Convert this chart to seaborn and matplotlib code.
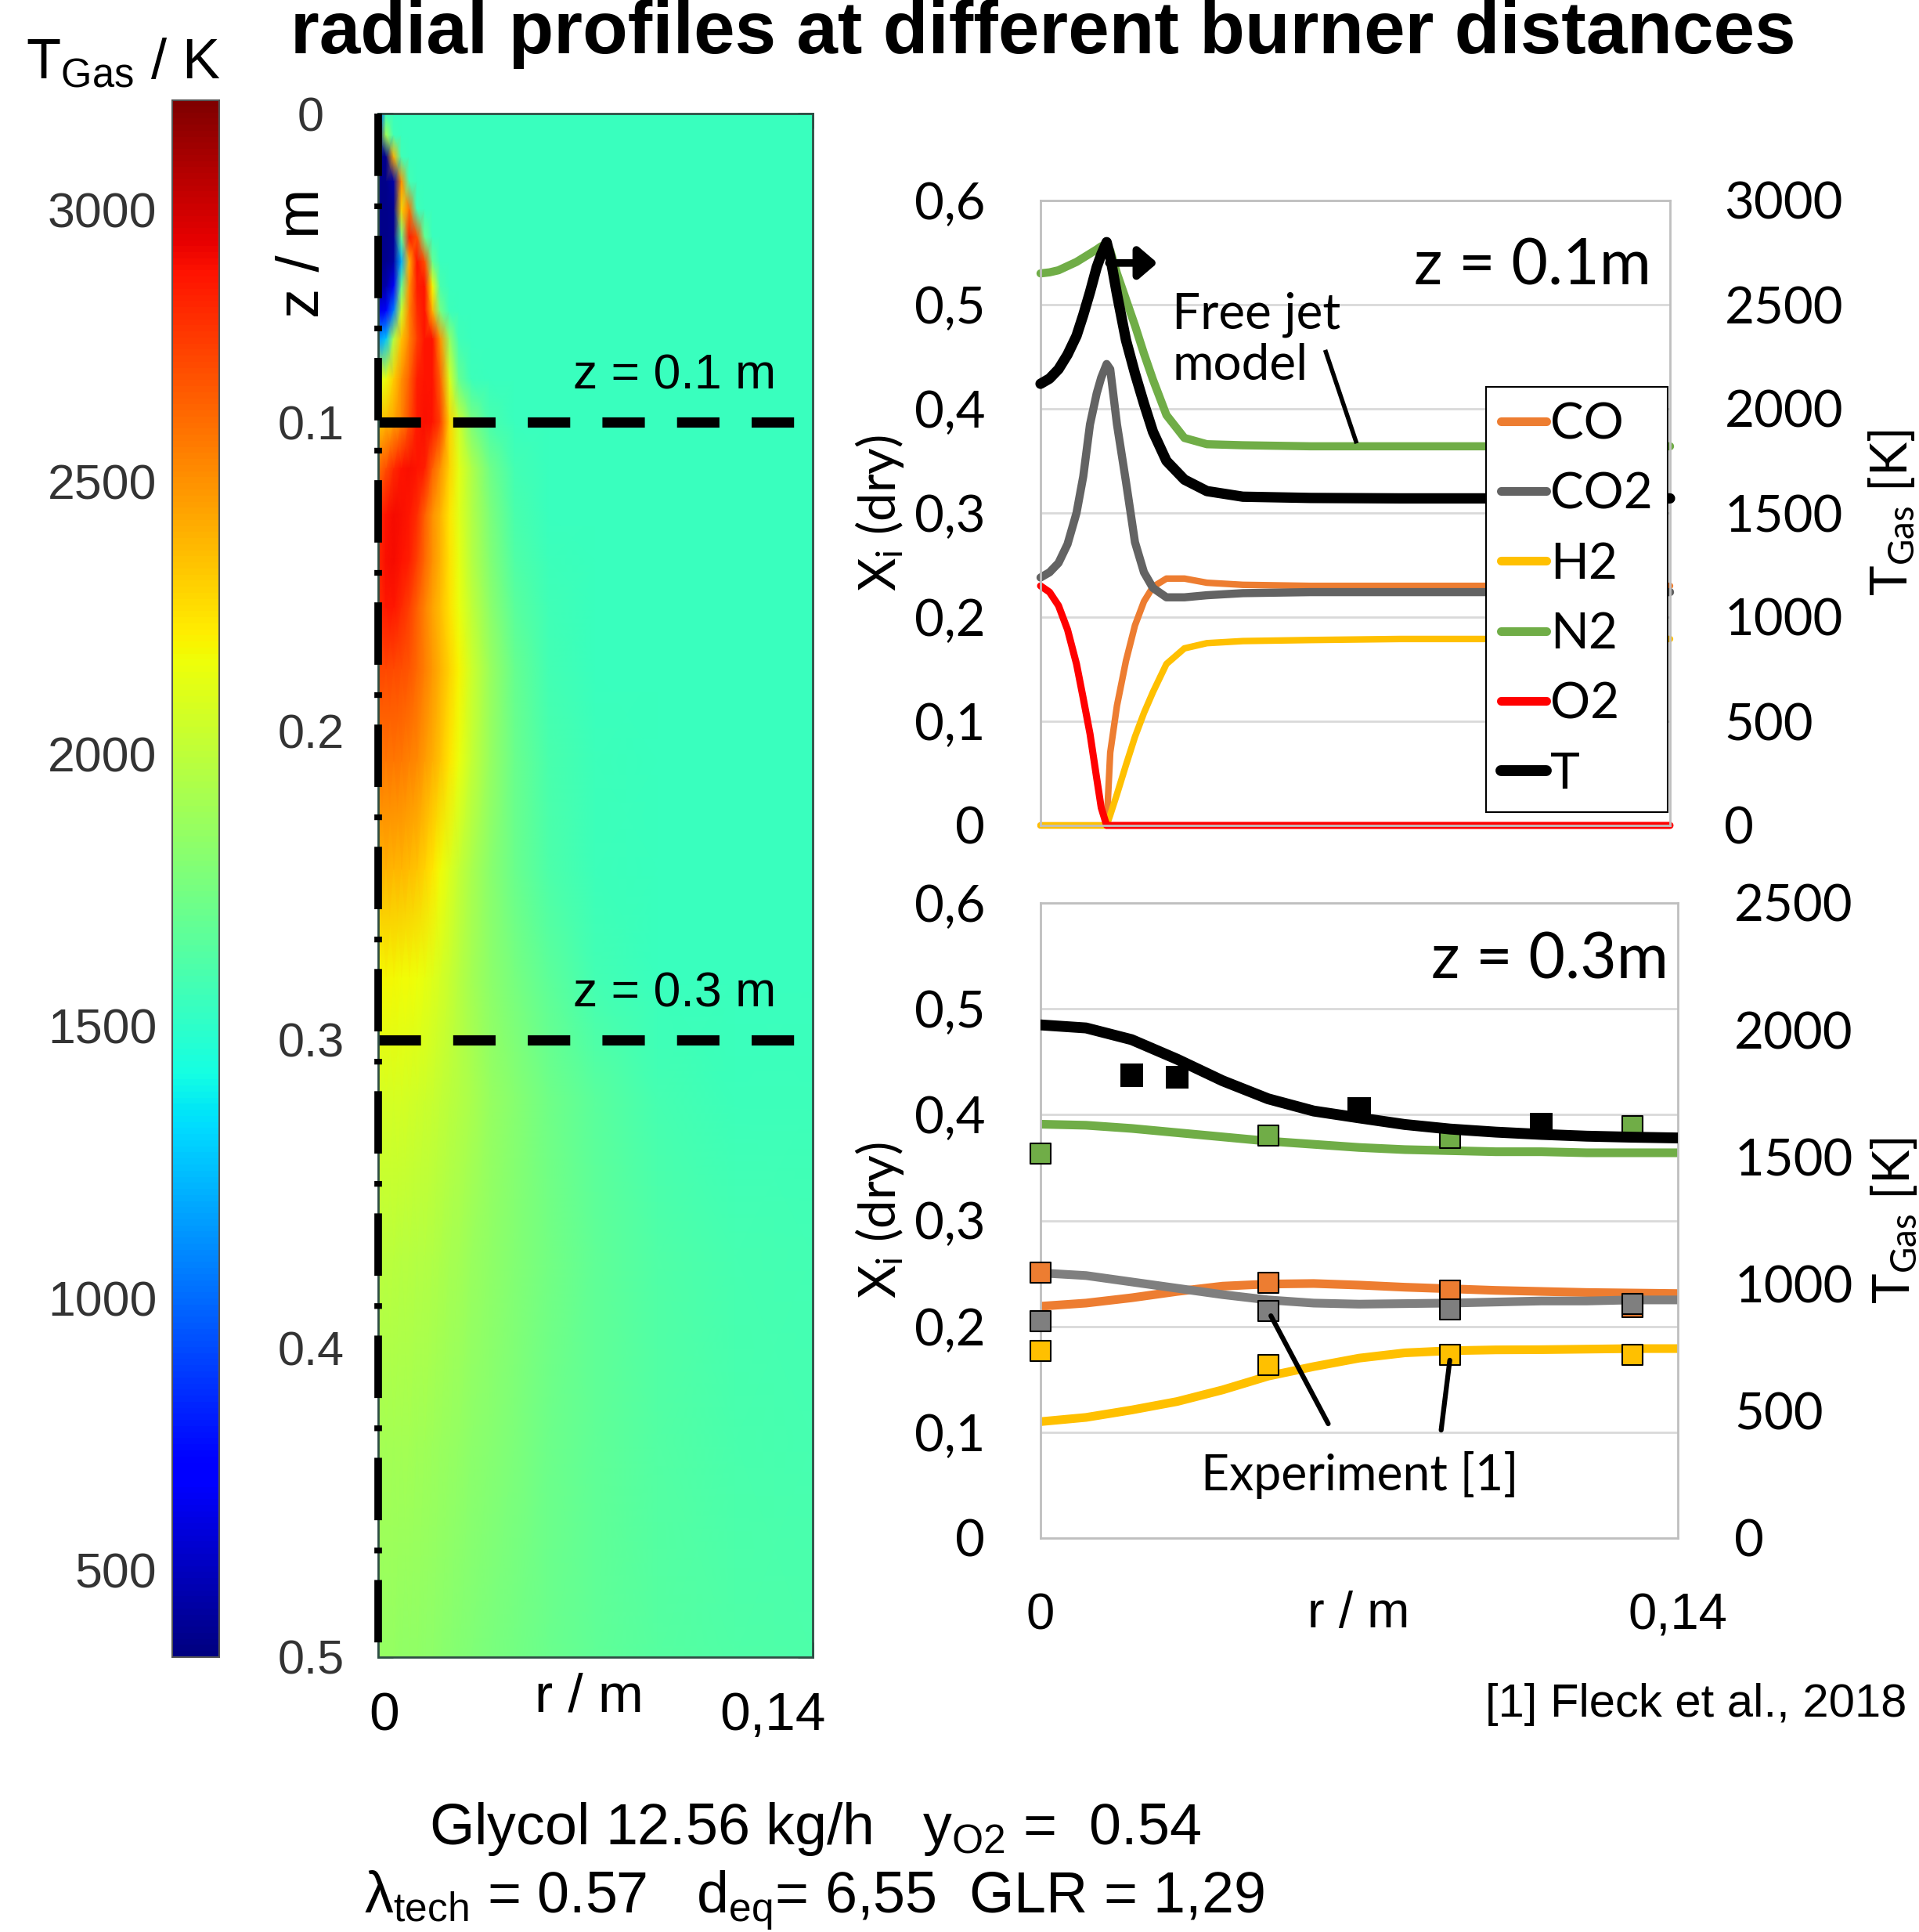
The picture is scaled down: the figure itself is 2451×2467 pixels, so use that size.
import numpy as np
import matplotlib
matplotlib.use("Agg")
import matplotlib.pyplot as plt
from matplotlib.lines import Line2D
import seaborn as sns

# ---------------------------------------------------------------- data
# CFD temperature field (K): rows follow field_z, columns follow field_r
field_r = [0, 0.0025, 0.005, 0.0075, 0.010, 0.0125, 0.015, 0.0175, 0.020, 0.023,
           0.026, 0.030, 0.036, 0.044, 0.055, 0.070, 0.090, 0.115, 0.140]
field_z = [0, 0.007, 0.014, 0.022, 0.031, 0.040, 0.048, 0.056, 0.064, 0.073, 0.086,
           0.100, 0.115, 0.130, 0.145, 0.160, 0.180, 0.210, 0.245, 0.280, 0.320,
           0.370, 0.430, 0.500]
field_T = [
    [800, 1540, 1540, 1540, 1540, 1540, 1540, 1540, 1540, 1540, 1540, 1540, 1540, 1540, 1540, 1540, 1540, 1540, 1540],
    [400, 1900, 1560, 1540, 1540, 1540, 1540, 1540, 1540, 1540, 1540, 1540, 1540, 1540, 1540, 1540, 1540, 1540, 1540],
    [380, 380, 2400, 1560, 1540, 1540, 1540, 1540, 1540, 1540, 1540, 1540, 1540, 1540, 1540, 1540, 1540, 1540, 1540],
    [370, 370, 450, 2500, 1570, 1540, 1540, 1540, 1540, 1540, 1540, 1540, 1540, 1540, 1540, 1540, 1540, 1540, 1540],
    [370, 370, 390, 2300, 2600, 1560, 1540, 1540, 1540, 1540, 1540, 1540, 1540, 1540, 1540, 1540, 1540, 1540, 1540],
    [370, 370, 400, 1700, 2850, 2700, 1700, 1545, 1540, 1540, 1540, 1540, 1540, 1540, 1540, 1540, 1540, 1540, 1540],
    [380, 380, 430, 1200, 2400, 2880, 2700, 1700, 1545, 1540, 1540, 1540, 1540, 1540, 1540, 1540, 1540, 1540, 1540],
    [420, 450, 650, 1700, 2500, 2850, 2880, 2200, 1600, 1540, 1540, 1540, 1540, 1540, 1540, 1540, 1540, 1540, 1540],
    [600, 700, 1050, 2050, 2550, 2800, 2880, 2400, 1750, 1550, 1540, 1540, 1540, 1540, 1540, 1540, 1540, 1540, 1540],
    [1100, 1250, 1950, 2350, 2550, 2750, 2880, 2880, 2500, 1850, 1560, 1540, 1540, 1540, 1540, 1540, 1540, 1540, 1540],
    [2100, 2150, 2320, 2500, 2650, 2850, 2880, 2880, 2650, 2100, 1700, 1550, 1540, 1540, 1540, 1540, 1540, 1540, 1540],
    [2350, 2380, 2450, 2550, 2700, 2860, 2890, 2880, 2750, 2300, 2050, 1780, 1600, 1545, 1540, 1540, 1540, 1540, 1540],
    [2600, 2700, 2820, 2880, 2890, 2880, 2850, 2650, 2500, 2300, 2130, 1950, 1730, 1570, 1540, 1540, 1540, 1540, 1540],
    [2800, 2880, 2900, 2890, 2870, 2800, 2650, 2500, 2400, 2250, 2120, 1960, 1780, 1600, 1545, 1540, 1540, 1540, 1540],
    [2820, 2890, 2900, 2880, 2850, 2750, 2620, 2500, 2400, 2260, 2140, 1980, 1800, 1620, 1550, 1540, 1540, 1540, 1540],
    [2800, 2870, 2870, 2820, 2750, 2650, 2550, 2450, 2370, 2260, 2150, 2010, 1830, 1650, 1560, 1540, 1540, 1540, 1540],
    [2720, 2720, 2710, 2700, 2680, 2630, 2560, 2480, 2400, 2300, 2200, 2050, 1880, 1700, 1580, 1545, 1540, 1540, 1540],
    [2580, 2580, 2575, 2565, 2550, 2520, 2470, 2410, 2340, 2250, 2150, 2020, 1870, 1710, 1600, 1550, 1540, 1540, 1540],
    [2400, 2400, 2395, 2385, 2370, 2340, 2300, 2240, 2180, 2100, 2020, 1930, 1820, 1710, 1610, 1555, 1540, 1540, 1540],
    [2190, 2190, 2187, 2182, 2175, 2162, 2140, 2110, 2075, 2030, 1980, 1910, 1830, 1750, 1660, 1580, 1545, 1540, 1540],
    [2080, 2080, 2078, 2075, 2070, 2060, 2048, 2032, 2015, 1990, 1965, 1930, 1870, 1805, 1730, 1650, 1590, 1555, 1550],
    [1985, 1985, 1983, 1980, 1976, 1970, 1962, 1952, 1940, 1925, 1905, 1880, 1845, 1800, 1740, 1670, 1620, 1585, 1570],
    [1915, 1915, 1913, 1911, 1907, 1902, 1896, 1888, 1880, 1868, 1855, 1835, 1808, 1770, 1725, 1670, 1630, 1600, 1590],
    [1850, 1850, 1849, 1847, 1844, 1840, 1834, 1828, 1820, 1810, 1800, 1785, 1765, 1740, 1710, 1670, 1640, 1620, 1610],
]
cbar_range = [340, 3200]
cbar_ticks = [500, 1000, 1500, 2000, 2500, 3000]
z_ticks = [0, 0.1, 0.2, 0.3, 0.4, 0.5]
z_tick_labels = ["0", "0.1", "0.2", "0.3", "0.4", "0.5"]
r_ticks = [0, 0.07, 0.14]
cut_planes = [0.1, 0.3]
cut_labels = ["z = 0.1 m", "z = 0.3 m"]
axis_line_z = [0.0, 0.5]

# radial profile at z = 0.1 m (model)
top_r = [0, 0.002, 0.004, 0.006, 0.008, 0.0095, 0.011, 0.0125, 0.0135, 0.0147, 0.0155,
         0.017, 0.019, 0.021, 0.023, 0.025, 0.028, 0.032, 0.037, 0.045, 0.06, 0.08,
         0.10, 0.12, 0.14]
top_CO = [0, 0, 0, 0, 0, 0, 0, 0, 0, 0, 0.07,
          0.115, 0.158, 0.192, 0.215, 0.229, 0.237, 0.237, 0.233, 0.231, 0.230, 0.230,
          0.230, 0.230, 0.230]
top_CO2 = [0.238, 0.243, 0.252, 0.270, 0.300, 0.335, 0.385, 0.415, 0.430, 0.443, 0.438,
           0.385, 0.330, 0.272, 0.243, 0.228, 0.219, 0.219, 0.221, 0.223, 0.224, 0.224,
           0.224, 0.224, 0.224]
top_H2 = [0, 0, 0, 0, 0, 0, 0, 0, 0, 0, 0.01,
          0.03, 0.058, 0.085, 0.108, 0.128, 0.155, 0.170, 0.175, 0.177, 0.178, 0.179,
          0.179, 0.179, 0.179]
top_N2 = [0.530, 0.531, 0.533, 0.537, 0.541, 0.545, 0.549, 0.553, 0.556, 0.558, 0.552,
          0.530, 0.505, 0.480, 0.453, 0.428, 0.394, 0.372, 0.366, 0.365, 0.364, 0.364,
          0.364, 0.364, 0.364]
top_O2 = [0.230, 0.224, 0.211, 0.188, 0.155, 0.122, 0.088, 0.045, 0.017, 0, 0,
          0, 0, 0, 0, 0, 0, 0, 0, 0, 0, 0,
          0, 0, 0]
top_T = [2120, 2145, 2190, 2260, 2350, 2450, 2560, 2680, 2740, 2800, 2730,
         2550, 2330, 2170, 2025, 1890, 1750, 1660, 1605, 1578, 1572, 1570,
         1570, 1570, 1570]

# radial profile at z = 0.3 m (model)
bot_r = [0, 0.01, 0.02, 0.03, 0.04, 0.05, 0.06, 0.07, 0.08, 0.09, 0.10, 0.11, 0.12, 0.13, 0.14]
bot_CO = [0.219, 0.222, 0.227, 0.233, 0.238, 0.240, 0.2405, 0.239, 0.237, 0.2355, 0.234, 0.233, 0.232, 0.2315, 0.231]
bot_CO2 = [0.2505, 0.248, 0.242, 0.236, 0.230, 0.225, 0.222, 0.221, 0.2215, 0.222, 0.223, 0.224, 0.224, 0.225, 0.225]
bot_H2 = [0.110, 0.114, 0.121, 0.129, 0.140, 0.153, 0.162, 0.170, 0.175, 0.177, 0.1778, 0.178, 0.1785, 0.179, 0.179]
bot_N2 = [0.391, 0.390, 0.387, 0.383, 0.379, 0.375, 0.372, 0.369, 0.367, 0.366, 0.365, 0.365, 0.364, 0.364, 0.364]
bot_T = [2020, 2008, 1962, 1885, 1800, 1729, 1681, 1654, 1628, 1610, 1598, 1589, 1582, 1578, 1575]

# experiment [1] at z = 0.3 m
exp_r = [0, 0.05, 0.09, 0.13]
exp_CO = [0.251, 0.241, 0.234, 0.218]
exp_CO2 = [0.205, 0.2145, 0.216, 0.2215]
exp_H2 = [0.177, 0.1635, 0.1728, 0.1733]
exp_N2 = [0.363, 0.380, 0.378, 0.389]
exp_T_r = [0.02, 0.03, 0.07, 0.11]
exp_T = [1822, 1813, 1690, 1628]

x_ticks = [0, 0.1, 0.2, 0.3, 0.4, 0.5, 0.6]
x_tick_labels = ["0", "0,1", "0,2", "0,3", "0,4", "0,5", "0,6"]
T_ticks_top = [0, 500, 1000, 1500, 2000, 2500, 3000]
T_ticks_bot = [0, 500, 1000, 1500, 2000, 2500]
r_axis_ticks = [0, 0.14]
r_axis_labels = ["0", "0,14"]

legend_names = ["CO", "CO2", "H2", "N2", "O2", "T"]

# annotation pointers (data coordinates)
freejet_ptr_r = [0.0633, 0.0703]
freejet_ptr_x = [0.4565, 0.3668]
jet_arrow_r = [0.0152, 0.0260]
jet_arrow_T = 2700
exp_ptr1_r = [0.0632, 0.0506]
exp_ptr1_x = [0.108, 0.210]
exp_ptr2_r = [0.0880, 0.0899]
exp_ptr2_x = [0.102, 0.168]

# ---------------------------------------------------------------- style
sns.set_style("white")
ARIAL = ["Liberation Sans", "DejaVu Sans"]
EXCEL = ["Lato", "DejaVu Sans"]
plt.rcParams["font.family"] = ARIAL
for key in ["text.color", "axes.labelcolor", "xtick.color", "ytick.color"]:
    plt.rcParams[key] = "black"

colors = {"CO": "#ED7D31", "CO2": "#636363", "H2": "#FFC000", "N2": "#70AD47",
          "O2": "#FF0000", "T": "#000000"}
gray_bot = "#7F7F7F"

W, H = 2451, 2467
fig = plt.figure(figsize=(W / 100, H / 100), dpi=100)


def rect(x0, y0, x1, y1):
    return [x0 / W, 1 - y1 / H, (x1 - x0) / W, (y1 - y0) / H]


def ptext(x, y, s, size, family=ARIAL, ha="center", va="center", **kw):
    return fig.text(x / W, 1 - y / H, s, fontsize=size, family=family, ha=ha, va=va,
                    color="black", **kw)


# ---------------------------------------------------------------- title
ptext(1332, 68, "radial profiles at different burner distances", 68, ha="center",
      va="baseline", fontweight="bold")

# ---------------------------------------------------------------- heat map
cax = fig.add_axes(rect(220, 128, 280, 2116))
hax = fig.add_axes(rect(483, 145, 1038, 2116))

R, Z = np.meshgrid(field_r, field_z)
mesh = hax.pcolormesh(R, Z, np.array(field_T, dtype=float), cmap="jet",
                      vmin=cbar_range[0], vmax=cbar_range[1], shading="gouraud")
hax.set_xlim(0, 0.14)
hax.set_ylim(0.5, 0)
hax.set_xticks(r_ticks)
hax.set_xticklabels([])
hax.set_yticks(z_ticks)
hax.set_yticklabels(z_tick_labels, ha="center", fontsize=44, color="#333333", family=ARIAL)
hax.tick_params(axis="y", direction="in", length=14, width=2, color="#2e5a4c",
                pad=62, left=True, right=True)
hax.tick_params(axis="x", direction="in", length=14, width=2, color="#2e5a4c",
                top=True, bottom=True, labelbottom=False)
for sp in hax.spines.values():
    sp.set_color("#2e4e44")
    sp.set_linewidth(2)

for zc, lab in zip(cut_planes, cut_labels):
    hax.axhline(zc, color="black", lw=9.4, linestyle=(0, (4.15, 3.15)))
    hax.text(0.0955, zc - 0.0108, lab, ha="center", va="baseline", fontsize=45,
             family=ARIAL, color="black")
hax.plot([0, 0], axis_line_z, color="black", lw=7, linestyle=(0, (8.2, 3.6, 0.75, 3.5)),
         clip_on=False, zorder=5)
hax.set_ylabel("z / m", fontsize=55, family=ARIAL, color="black")
hax.yaxis.set_label_coords((423 - 483) / 555, (2116 - 323) / 1971)

cb = fig.colorbar(mesh, cax=cax, ticks=cbar_ticks)
cax.yaxis.set_ticks_position("left")
cax.tick_params(direction="in", length=18, width=1.5, color="#333333", labelsize=45,
                labelcolor="#333333", pad=14)
for lab in cax.get_yticklabels():
    lab.set_family(ARIAL)
cb.outline.set_edgecolor("#555555")
cb.outline.set_linewidth(1.5)

ptext(157, 100, r"T$\mathregular{_{Gas}}$ / K", 52, va="baseline")

ptext(491, 2191, "0", 50)
ptext(752, 2168, "r / m", 50)
ptext(987, 2191, "0,14", 50)


# ---------------------------------------------------------------- right charts
def style_chart(ax, ax2, t_ticks, t_max, lpad, rpad):
    ax.set_xlim(0, 0.14)
    ax.set_ylim(0, 0.6)
    ax2.set_ylim(0, t_max)
    ax.set_yticks(x_ticks)
    ax.set_yticklabels(x_tick_labels, fontsize=47, family=EXCEL)
    ax2.set_yticks(t_ticks)
    ax2.set_yticklabels([str(t) for t in t_ticks], fontsize=47, family=EXCEL)
    ax.tick_params(axis="y", length=0, pad=lpad)
    ax2.tick_params(axis="y", length=0, pad=rpad)
    ax.set_axisbelow(True)
    ax.yaxis.grid(True, color="#d9d9d9", lw=2)
    ax.xaxis.grid(False)
    for sp in ax.spines.values():
        sp.set_color("#bfbfbf")
        sp.set_linewidth(2)
    for sp in ax2.spines.values():
        sp.set_visible(False)
    ax.set_xlabel("")


tax = fig.add_axes(rect(1329, 256, 2133, 1054))
tax2 = tax.twinx()
bax = fig.add_axes(rect(1329, 1153, 2143, 1964))
bax2 = bax.twinx()

# --- z = 0.1 m
top_series = [("CO", top_CO, 6), ("CO2", top_CO2, 7.5), ("H2", top_H2, 6),
              ("N2", top_N2, 7.5), ("O2", top_O2, 6.5)]
for name, vals, lw in top_series:
    sns.lineplot(x=top_r, y=vals, ax=tax, color=colors[name], linewidth=lw,
                 sort=False, clip_on=False)
sns.lineplot(x=top_r, y=top_T, ax=tax2, color=colors["T"], linewidth=9.5, sort=False,
             clip_on=False)
style_chart(tax, tax2, T_ticks_top, 3000, 51, 50)
tax.set_xticks([])
tax.set_ylabel(r"X$\mathregular{_i}$ (dry)", fontsize=47, family=EXCEL)
tax.yaxis.set_label_coords((1157 - 1329) / 804, 0.5)
tax2.set_ylabel(r"T$\mathregular{_{Gas}}$ [K]", fontsize=47, family=EXCEL)
tax2.yaxis.set_label_coords((2385 - 1329) / 804, 0.5)

tax.plot(freejet_ptr_r, freejet_ptr_x, color="black", lw=4, solid_capstyle="butt")
tax2.annotate("", xy=(jet_arrow_r[1], jet_arrow_T), xytext=(jet_arrow_r[0], jet_arrow_T),
              arrowprops=dict(arrowstyle="-|>,head_length=0.35,head_width=0.3",
                              lw=7, color="black", mutation_scale=40,
                              shrinkA=0, shrinkB=0))
ptext(1958, 341, "z = 0.1m", 58, family=EXCEL)
ptext(1497, 434, "Free jet\nmodel", 46, family=EXCEL, ha="left", linespacing=1.15)

handles = [Line2D([0], [0], color=colors[n], lw=(10 if n == "T" else 8),
                  solid_capstyle="round") for n in legend_names]
leg = tax2.legend(handles, legend_names, loc="upper left",
                  bbox_to_anchor=(1898 / W, 1 - 494 / H), bbox_transform=fig.transFigure,
                  frameon=True, fancybox=False, edgecolor="black", framealpha=1,
                  borderaxespad=0, borderpad=0.3, handlelength=0.9, handletextpad=0.08,
                  labelspacing=0.49, prop={"family": EXCEL, "size": 46})
leg.get_frame().set_linewidth(1.5)

# --- z = 0.3 m
bot_series = [("CO", bot_CO, colors["CO"]), ("CO2", bot_CO2, gray_bot),
              ("H2", bot_H2, colors["H2"]), ("N2", bot_N2, colors["N2"])]
for name, vals, col in bot_series:
    sns.lineplot(x=bot_r, y=vals, ax=bax, color=col, linewidth=8, sort=False)
exp_series = [("CO", exp_CO, colors["CO"]), ("CO2", exp_CO2, gray_bot),
              ("H2", exp_H2, colors["H2"]), ("N2", exp_N2, colors["N2"])]
for name, vals, col in exp_series:
    sns.scatterplot(x=exp_r, y=vals, ax=bax, marker="s", s=350, color=col,
                    edgecolor="black", linewidth=1.5, zorder=5, clip_on=False)
sns.lineplot(x=bot_r, y=bot_T, ax=bax2, color="black", linewidth=10, sort=False)
sns.scatterplot(x=exp_T_r, y=exp_T, ax=bax2, marker="s", s=440, color="black",
                edgecolor="none", zorder=6, clip_on=False)
style_chart(bax, bax2, T_ticks_bot, 2500, 51, 52)
bax.set_xticks(r_axis_ticks)
bax.set_xticklabels(r_axis_labels, fontsize=47, family=ARIAL)
bax.tick_params(axis="x", length=0, pad=50, labelbottom=True)
bax.set_ylabel(r"X$\mathregular{_i}$ (dry)", fontsize=47, family=EXCEL)
bax.yaxis.set_label_coords((1157 - 1329) / 814, 0.5)
bax2.set_ylabel(r"T$\mathregular{_{Gas}}$ [K]", fontsize=47, family=EXCEL)
bax2.yaxis.set_label_coords((2388 - 1329) / 814, 0.5)

bax.plot(exp_ptr1_r, exp_ptr1_x, color="black", lw=4.5, clip_on=False, zorder=7)
bax.plot(exp_ptr2_r, exp_ptr2_x, color="black", lw=4.5, clip_on=False, zorder=7)
ptext(1737, 1883, "Experiment [1]", 45, family=EXCEL)
ptext(1979, 1227, "z = 0.3m", 58, family=EXCEL)
ptext(1735, 2061, "r / m", 47)

ptext(2435, 2176, "[1] Fleck et al., 2018", 43, ha="right")

# ---------------------------------------------------------------- bottom text
ptext(1041, 2355, r"Glycol 12.56 kg/h   y$\mathregular{_{O2}}$ =  0.54", 53, va="baseline")
ptext(1040, 2443, r"λ$\mathregular{_{tech}}$ = 0.57   d$\mathregular{_{eq}}$= 6,55  GLR = 1,29",
      53, va="baseline")

fig.savefig("out.png", dpi=100)
